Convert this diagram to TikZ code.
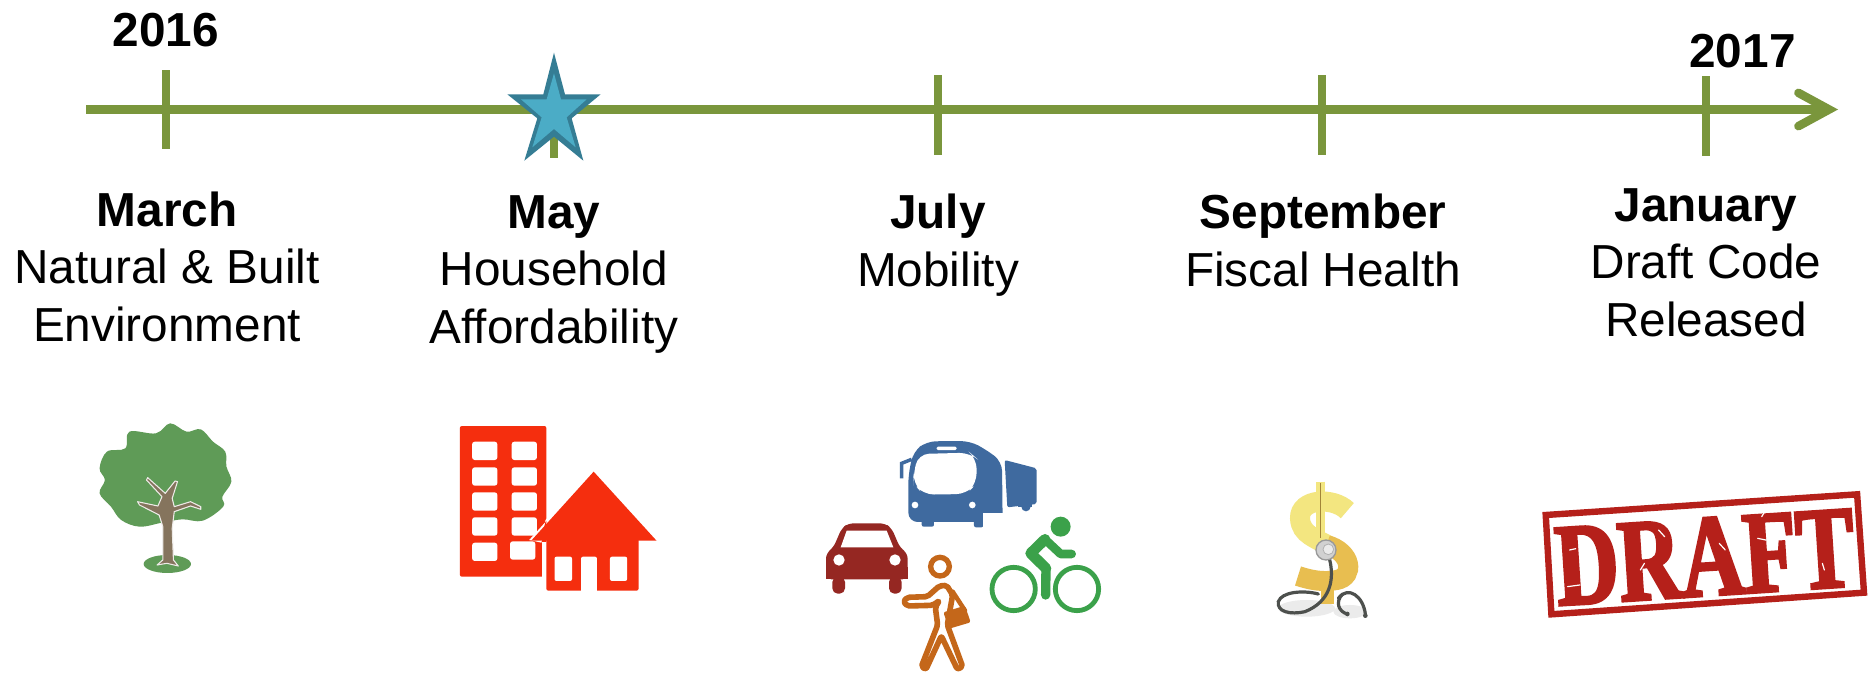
\documentclass[tikz,border=0pt]{standalone}
\usepackage{fontspec}
\setmainfont{Liberation Sans}
\newfontfamily\stampfont{Liberation Serif}[FakeStretch=0.74,BoldFeatures={FakeBold=2.5}]
\usetikzlibrary{arrows.meta}
\definecolor{axisgreen}{HTML}{7A963C}
\definecolor{starfill}{HTML}{4BACC6}
\definecolor{starline}{HTML}{357D94}
\definecolor{treegreen}{HTML}{5F9B57}
\definecolor{trunkbrown}{HTML}{85745D}
\definecolor{bldred}{HTML}{F52E0E}
\definecolor{busblue}{HTML}{3F6A9F}
\definecolor{carred}{HTML}{952722}
\definecolor{bikegreen}{HTML}{3BA14A}
\definecolor{walkorange}{HTML}{C4671A}
\definecolor{stampred}{HTML}{B5201A}
\definecolor{coinyellow}{HTML}{F3E680}
\definecolor{coingold}{HTML}{E8BE50}
\definecolor{tubegray}{HTML}{4D504D}
\tikzset{
  axisline/.style={draw=axisgreen,line width=6.4pt},
  tickmark/.style={draw=axisgreen,line width=6pt},
  stamptext/.style={inner sep=0pt,outer sep=0pt,anchor=base,align=center,text=black},
  yearlabel/.style={stamptext,font=\bfseries\fontsize{35.8}{43}\selectfont},
  monthlabel/.style={stamptext,font=\fontsize{35.8}{43}\selectfont},
  iconA/.style={shift={(60,400)},xscale=0.408,yscale=0.3333},
  iconB/.style={shift={(800,420)},xscale=0.3333,yscale=0.3333},
  iconC/.style={shift={(1240,450)},xscale=0.4044,yscale=0.3333},
  iconD/.style={shift={(1270,470)},scale=0.3333},
}
\begin{document}
\begin{tikzpicture}[x=0.75pt,y=-0.75pt]
\useasboundingbox (0,0) rectangle (1874,672);
\fill[white] (0,0) rectangle (1874,672);
% axis
\coordinate (axisL) at (86,109.5);
\coordinate (axisR) at (1838,109.5);
\draw[axisline,-{Straight Barb[length=23pt,width=25pt,line cap=round,line join=miter]}] (axisL) -- (axisR);
% ticks
\foreach \nm/\xx/\ya/\yb in {a/166/70/149,b/554/80/158,c/938/75/155,d/1322/75/155,e/1706/76/156}{
  \coordinate (tick\nm top) at (\xx,\ya);
  \coordinate (tick\nm bot) at (\xx,\yb);
  \draw[tickmark] (tick\nm top) -- (tick\nm bot);
}
% star
\begin{scope}[shift={(450,30)},scale=0.3333]
\fill[starline] (312,68)--(345,193)--(452,193)--(365,265)--(400,392)--(312,320)--(223,392)--(262,265)--(172,193)--(280,193)--cycle;
\fill[starfill] (312,130)--(333,208)--(410,208)--(350,262)--(377,352)--(312,297)--(247,352)--(275,262)--(213,208)--(290,208)--cycle;
\end{scope}
% labels
\node[yearlabel] (y2016) at (166,46) {2016};
\node[yearlabel] (y2017) at (1742.5,67) {2017};
\node[monthlabel] (lblMarch) at (167,341) {\textbf{March}\\Natural \& Built\\Environment};
\node[monthlabel] (lblMay) at (554,343) {\textbf{May}\\Household\\Affordability};
\node[monthlabel] (lblJuly) at (938,286) {\textbf{July}\\Mobility};
\node[monthlabel] (lblSept) at (1323,286) {\textbf{September}\\Fiscal Health};
\node[monthlabel] (lblJan) at (1706,336) {\textbf{January}\\Draft Code\\Released};
% tree
\begin{scope}[iconA]
\fill[treegreen] (263,492) ellipse [x radius=58,y radius=27];
\fill[treegreen] plot[smooth cycle,tension=0.6] coordinates {(270,70)(310,95)(345,88)(375,125)(405,155)(408,200)(420,245)(398,290)(400,320)(350,362)(300,358)(250,368)(195,380)(150,360)(125,320)(97,280)(110,240)(97,205)(115,155)(160,145)(170,95)(235,100)};
\draw[fill=trunkbrown,draw=white!85!trunkbrown,line width=0.8pt,line join=round] (238,495)--(252,480)--(252,380)--(243,345)--(195,315)--(190,305)--(240,318)--(250,290)--(212,240)--(215,233)--(258,280)--(282,243)--(288,245)--(275,295)--(280,320)--(320,305)--(345,320)--(345,328)--(320,318)--(280,335)--(275,385)--(278,480)--(290,498)--(262,490)--cycle;
\end{scope}
% building and house
\begin{scope}[iconA]
\fill[bldred,rounded corners=1.5pt] (980,78) rectangle (1192,530);
\foreach \cx/\cy in {1010/125,1107/125,1010/202,1107/202,1010/277,1107/277,1010/352,1107/352,1010/428,1103/424}{
  \fill[white,rounded corners=2pt] (\cx,\cy) rectangle ++(62,55);
}
\fill[white] (1181,425) rectangle (1195,535);
\fill[white] (1308,206)--(1150,420)--(1180,428)--(1190,360)--cycle;
\fill[bldred] (1308,215)--(1462,422)--(1155,422)--cycle;
\fill[bldred,rounded corners=1.5pt] (1192,415) rectangle (1418,572);
\fill[white,rounded corners=1.5pt] (1212,470) rectangle (1255,543);
\fill[white,rounded corners=1.5pt] (1348,470) rectangle (1390,543);
\fill[white,rounded corners=1.5pt] (1277,470) rectangle (1316,580);
\end{scope}
% transport group
\begin{scope}[iconB]
% bus
\fill[busblue,rounded corners=7pt] (325,306)--(325,165)--(340,95)--(380,64)--(510,63)--(560,90)--(606,125)--(608,306)--cycle;
\fill[busblue,rounded corners=1.5pt] (614,120)--(710,145)--(710,252)--(622,262)--cycle;
\fill[busblue] (655,250) rectangle (695,262);
\fill[busblue] (678,260) circle [radius=14];
\fill[busblue,rounded corners=1.5pt] (365,300) rectangle (402,320);
\fill[busblue,rounded corners=1.5pt] (522,300) rectangle (550,322);
\fill[white,rounded corners=8pt] (340,165)--(355,102)--(510,98)--(530,115)--(530,190)--(500,222)--(370,224)--(340,190)--cycle;
\fill[white,rounded corners=1pt] (410,80) rectangle (470,90);
\fill[white] (345,255) circle [radius=10];
\fill[white] (517,255) circle [radius=10];
\draw[busblue,line width=2.6pt] (305,175)--(305,130)--(335,118);
\fill[white] (548,280) rectangle (912,580);
% car
\fill[carred,rounded corners=4pt] (78,478)--(78,400)--(100,383)--(125,325)--(145,310)--(255,310)--(275,325)--(300,383)--(323,400)--(323,478)--cycle;
\fill[carred] (78,440) rectangle (323,478);
\fill[carred,rounded corners=4pt] (97,470) rectangle (135,521);
\fill[carred,rounded corners=4pt] (267,470) rectangle (305,521);
\fill[white] (122,382)--(140,332)--(260,332)--(280,382)--cycle;
\fill[white] (117,420) circle [radius=17];
\fill[white] (285,420) circle [radius=17];
% walker
\begin{scope}[shift={(300,390)}]
\draw[walkorange,line width=4pt] (120,50) circle [radius=28];
\draw[walkorange,line width=4.2pt,line join=round,line cap=round,rounded corners=1.5pt] (22,142)--(82,140)--(118,108)--(140,106)--(158,135)--(142,225)--(188,350)--(172,358)--(124,258)--(78,358)--(64,350)--(113,225)--(106,172)--(118,152)--(98,166)--(22,168)--(10,155)--cycle;
\draw[walkorange,line width=3.4pt,line cap=round] (158,125)--(195,182);
\fill[walkorange,rounded corners=1.5pt] (130,187)--(195,167)--(212,217)--(148,236)--cycle;
\end{scope}
% bike
\draw[bikegreen,line width=3.6pt] (641,507) circle [radius=65];
\draw[bikegreen,line width=3.6pt] (831,507) circle [radius=65];
\fill[bikegreen] (782,320) circle [radius=30];
\draw[bikegreen,line width=8pt,line cap=round,line join=round] (735,358)--(692,400)--(738,445);
\draw[bikegreen,line width=7pt,line cap=round,line join=round] (738,445)--(737,525);
\draw[bikegreen,line width=6.5pt,line cap=round,line join=round] (735,358)--(782,402)--(815,402);
\end{scope}
% dollar with stethoscope
\begin{scope}[iconD]
\fill[black!8] (110,415) ellipse [x radius=85,y radius=25];
\fill[black!8] (240,425) ellipse [x radius=50,y radius=20];
\draw[coinyellow,line width=7pt] (152,35)--(152,230);
\draw[coinyellow,line width=15pt] (232,122) .. controls (190,80) and (88,85) .. (90,145) .. controls (92,195) and (140,205) .. (180,230);
\draw[coingold,line width=15pt] (170,225) .. controls (245,245) and (255,320) .. (200,330) .. controls (160,338) and (120,330) .. (84,318);
\draw[coingold,line width=10pt] (172,320)--(172,402);
\draw[coingold!70!black,line width=0.7pt] (150,40)--(150,205);
\draw[tubegray,line width=2.4pt,line cap=round] (178,265) .. controls (195,330) and (180,395) .. (105,425) .. controls (60,435) and (20,425) .. (25,395) .. controls (35,365) and (100,360) .. (145,372);
\draw[tubegray,line width=2.4pt,line cap=round] (205,385) .. controls (235,345) and (280,380) .. (286,432);
\draw[tubegray,line width=2.4pt,line cap=round] (218,372) .. controls (195,395) and (205,425) .. (232,432);
\fill[tubegray] (286,437) circle [radius=7];
\fill[tubegray] (232,432) circle [radius=7];
\draw[black!40,fill=black!18,line width=1pt] (168,240) circle [radius=30];
\draw[black!30,fill=black!8,line width=0.6pt] (175,238) circle [radius=16];
\end{scope}
% draft stamp
\begin{scope}[iconC]
\draw[stampred,line width=4.8pt,line join=miter] (756,195)--(1526,133)--(1543,428)--(770,493)--cycle;
\end{scope}
\node[inner sep=0pt,outer sep=0pt,text=stampred,rotate=3.75] (draft) at (1705,557) {\stampfont\bfseries\fontsize{88}{88}\selectfont DRAFT};
\begin{scope}[iconC]
\foreach \ax/\ay/\bx/\by in {815/300/830/296,1050/260/1035/240,1000/340/990/360,1185/280/1200/300,1280/265/1300/270,1440/340/1445/360,810/410/840/405,1300/180/1290/200}{
  \draw[white,line width=0.9pt,line cap=round] (\ax,\ay)--(\bx,\by);
}
\end{scope}
\end{tikzpicture}
\end{document}
